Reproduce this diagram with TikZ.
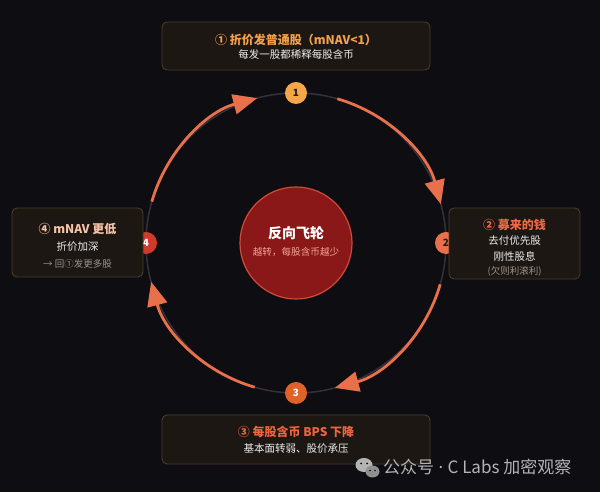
\documentclass[tikz,border=0pt]{standalone}
\usepackage{fontspec}
\setmainfont{Noto Sans CJK SC}
\newfontfamily\latinfont{Noto Sans}
\usetikzlibrary{arrows.meta}
\definecolor{bg}{HTML}{0E0D12}
\definecolor{ringc}{HTML}{36303A}
\definecolor{flowc}{HTML}{E8704A}
\definecolor{boxfill}{HTML}{1C1713}
\definecolor{boxline}{HTML}{4A3B2C}
\definecolor{bA}{HTML}{F5A54A}
\definecolor{bB}{HTML}{E8704A}
\definecolor{bC}{HTML}{E0622A}
\definecolor{bD}{HTML}{D03A2A}
\definecolor{tA}{HTML}{F5A04A}
\definecolor{tB}{HTML}{EE6A45}
\definecolor{tC}{HTML}{EC6440}
\definecolor{tD}{HTML}{F7C4AA}
\definecolor{subc}{HTML}{EDEDED}
\definecolor{grayc}{HTML}{9A948E}
\definecolor{hubfill}{HTML}{8A1818}
\definecolor{hubline}{HTML}{D04A3A}
\definecolor{hubsub}{HTML}{F2A592}
\definecolor{darktxt}{HTML}{2A1A10}
\definecolor{wmc}{HTML}{B4B4B4}
\begin{document}
\begin{tikzpicture}[x=1pt,y=1pt,
  ring/.style={draw=ringc,line width=1.5pt},
  flow/.style={draw=flowc,line width=2.8pt,-{Triangle[length=24pt,width=20pt]}},
  badge/.style={circle,minimum size=22pt,inner sep=0pt,font=\bfseries\fontsize{10}{10}\selectfont},
  box/.style={draw=boxline,fill=boxfill,line width=0.9pt,rounded corners=5pt,inner sep=0pt},
  title/.style={font=\bfseries\fontsize{12}{14}\selectfont,inner sep=0pt},
  sub/.style={font=\fontsize{10.5}{12}\selectfont,text=subc,inner sep=0pt},
  note/.style={font=\fontsize{9.5}{11}\selectfont,text=grayc,inner sep=0pt}]
\useasboundingbox[fill=bg] (0,0) rectangle (600,492);
\coordinate (C) at (296,249);
% ring
\draw[ring] (C) circle[radius=150];
% flow arcs
\coordinate (s12) at ([shift={(74:150)}]C);
\coordinate (s23) at ([shift={(-16:150)}]C);
\coordinate (s34) at ([shift={(-106:150)}]C);
\coordinate (s41) at ([shift={(164:150)}]C);
\draw[flow] (s12) arc[start angle=74,end angle=15,radius=150];
\draw[flow] (s23) arc[start angle=-16,end angle=-75,radius=150];
\draw[flow] (s34) arc[start angle=-106,end angle=-165,radius=150];
\draw[flow] (s41) arc[start angle=164,end angle=105,radius=150];
% badges
\node[badge,fill=bA,text=darktxt] (b1) at ([shift={(90:150)}]C) {1};
\node[badge,fill=bB,text=darktxt] (b2) at ([shift={(0:150)}]C) {2};
\node[badge,fill=bC,text=white] (b3) at ([shift={(-90:150)}]C) {3};
\node[badge,fill=bD,text=white] (b4) at ([shift={(180:150)}]C) {4};
% boxes
\node[box,minimum width=268pt,minimum height=48pt] (box1) at (296,446) {};
\node[box,minimum width=131pt,minimum height=71pt] (box2) at (514.5,248.5) {};
\node[box,minimum width=268pt,minimum height=49pt] (box3) at (296,52.5) {};
\node[box,minimum width=131pt,minimum height=69pt] (box4) at (77.5,249.5) {};
% box texts
\node[title,text=tA] (t1) at (296,452) {① 折价发普通股（mNAV<1）};
\node[sub] (u1) at (296,437) {每发一股都稀释每股含币};
\node[title,text=tB] (t2) at (514.5,267.5) {② 募来的钱};
\node[sub] (u2a) at (514.5,251.5) {去付优先股};
\node[sub] (u2b) at (514.5,235.5) {刚性股息};
\node[note] (n2) at (514.5,221) {(欠则利滚利)};
\node[title,text=tC] (t3) at (296,60) {③ 每股含币 BPS 下降};
\node[sub] (u3) at (296,43) {基本面转弱、股价承压};
\node[title,text=tD] (t4) at (77.5,263.5) {④ mNAV 更低};
\node[sub] (u4) at (77.5,245) {折价加深};
\node[note] (n4) at (77.5,228) {→ 回①发更多股};
% hub
\node[circle,minimum size=112pt,fill=hubfill,draw=hubline,line width=1.2pt] (hub) at (C) {};
\node[font=\bfseries\fontsize{14}{16}\selectfont,text=white,inner sep=0pt] (ht) at (296,259) {反向飞轮};
\node[font=\fontsize{9.6}{11}\selectfont,text=hubsub,inner sep=0pt] (hs) at (296,240) {越转，每股含币越少};
% watermark
\fill[wmc] (364,27) ellipse[x radius=8.5pt,y radius=7pt];
\fill[wmc!80!black] (372.5,20.5) ellipse[x radius=7pt,y radius=6pt];
\fill[bg] (361,28.5) circle[radius=1pt] (367,28.5) circle[radius=1pt];
\fill[bg] (370,21.5) circle[radius=0.9pt] (375,21.5) circle[radius=0.9pt];
\node[anchor=west,font=\fontsize{17}{19}\selectfont,text=wmc,inner sep=0pt] (wm) at (383,25) {公众号{\latinfont\ ·\ }C Labs 加密观察};
\end{tikzpicture}
\end{document}
